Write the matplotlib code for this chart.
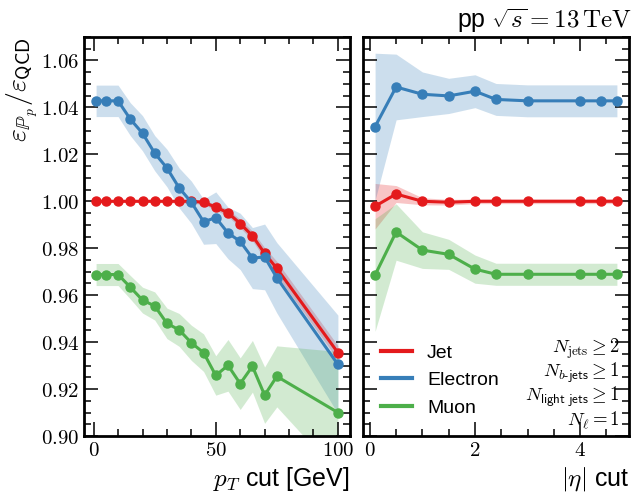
import numpy as np
import matplotlib
matplotlib.use("Agg")
import matplotlib.pyplot as plt
from matplotlib.ticker import MultipleLocator, FuncFormatter

plt.rcParams["font.family"] = ["Liberation Sans", "DejaVu Sans"]
plt.rcParams["mathtext.fontset"] = "cm"

# ---------------- data ----------------
pt_cut = [1, 5, 10, 15, 20, 25, 30, 35, 40, 45, 50, 55, 60, 65, 70, 75, 100]
jet_pt = [1.000, 1.000, 1.000, 1.000, 1.000, 1.000, 1.000, 1.000, 1.000, 0.9996,
          0.9975, 0.9951, 0.9905, 0.9853, 0.9778, 0.9714, 0.9355]
jet_pt_err = [0.0005, 0.0005, 0.0005, 0.0005, 0.0005, 0.0005, 0.0006, 0.0007, 0.0008,
              0.001, 0.0012, 0.0015, 0.0018, 0.002, 0.0025, 0.003, 0.003]
ele_pt = [1.0428, 1.0428, 1.0428, 1.035, 1.029, 1.0205, 1.0142, 1.0057, 0.9996,
          0.9913, 0.993, 0.9865, 0.9829, 0.9758, 0.9763, 0.9674, 0.9305]
ele_pt_err = [0.0067, 0.0067, 0.0067, 0.007, 0.0075, 0.0075, 0.008, 0.0085, 0.009,
              0.0096, 0.011, 0.011, 0.012, 0.013, 0.014, 0.015, 0.021]
muon_pt = [0.9688, 0.9688, 0.9688, 0.9634, 0.9579, 0.9554, 0.948, 0.9452, 0.9397,
           0.9355, 0.9258, 0.9301, 0.9223, 0.9297, 0.9174, 0.9254, 0.910]
muon_pt_err = [0.0047, 0.0047, 0.0047, 0.005, 0.0055, 0.006, 0.0065, 0.007, 0.0075,
               0.008, 0.0084, 0.011, 0.011, 0.011, 0.012, 0.013, 0.026]

eta_cut = [0.1, 0.5, 1.0, 1.5, 2.0, 2.4, 3.0, 4.0, 4.4, 4.7]
jet_eta = [0.9979, 1.0031, 1.000, 0.9996, 1.000, 1.000, 1.000, 1.000, 1.000, 1.000]
jet_eta_err = [0.0097, 0.0036, 0.0015, 0.0012, 0.001, 0.001, 0.001, 0.001, 0.001, 0.001]
ele_eta = [1.0318, 1.0487, 1.0456, 1.0449, 1.0469, 1.0434, 1.0428, 1.0428, 1.0428, 1.0428]
ele_eta_err = [0.0313, 0.014, 0.0095, 0.0075, 0.007, 0.0068, 0.0068, 0.0068, 0.0068, 0.0068]
muon_eta = [0.9686, 0.9869, 0.9792, 0.9774, 0.9711, 0.9689, 0.9689, 0.9689, 0.9689, 0.9689]
muon_eta_err = [0.024, 0.012, 0.0078, 0.0064, 0.006, 0.0047, 0.0047, 0.0047, 0.0047, 0.0047]

labels = ["Jet", "Electron", "Muon"]
colors = ["#e41a1c", "#377eb8", "#4daf4a"]

# ---------------- figure ----------------
fig = plt.figure(figsize=(6.44, 4.99), dpi=100)
W, H = 644.0, 499.0
ax1 = fig.add_axes([84 / W, 63 / H, 266 / W, 399 / H])
ax2 = fig.add_axes([363 / W, 63 / H, 266 / W, 399 / H], sharey=ax1)


def draw(ax, x, series):
    handles = []
    for (y, e), c, lab in zip(series, colors, labels):
        y = np.asarray(y); e = np.asarray(e)
        ax.fill_between(x, y - e, y + e, color=c, alpha=0.25, lw=0)
        ax.plot(x, y, color=c, lw=2.2, marker="o", ms=6.5)
        h, = ax.plot([], [], color=c, lw=3, label=lab)
        handles.append(h)
    return handles


draw(ax1, pt_cut, [(jet_pt, jet_pt_err), (ele_pt, ele_pt_err), (muon_pt, muon_pt_err)])
handles = draw(ax2, eta_cut, [(jet_eta, jet_eta_err), (ele_eta, ele_eta_err), (muon_eta, muon_eta_err)])

ax1.set_ylim(0.90, 1.07)
ax1.set_xlim(-3.95, 104.95)
ax2.set_xlim(-0.13, 4.93)

ax1.xaxis.set_major_locator(MultipleLocator(50))
ax1.xaxis.set_minor_locator(MultipleLocator(10))
ax2.xaxis.set_major_locator(MultipleLocator(2))
ax2.xaxis.set_minor_locator(MultipleLocator(0.5))
ax1.yaxis.set_major_locator(MultipleLocator(0.02))
ax1.yaxis.set_minor_locator(MultipleLocator(0.005))

ax1.xaxis.set_major_formatter(FuncFormatter(lambda v, p: r"$%d$" % round(v)))
ax2.xaxis.set_major_formatter(FuncFormatter(lambda v, p: r"$%d$" % round(v)))
ax1.yaxis.set_major_formatter(FuncFormatter(lambda v, p: r"$%.2f$" % v))

for ax in (ax1, ax2):
    for s in ax.spines.values():
        s.set_linewidth(2)
    ax.tick_params(which="both", direction="in", top=True, right=True, labelsize=15)
    ax.tick_params(which="major", length=10, width=1.1)
    ax.tick_params(which="minor", length=5, width=1.1)
ax2.tick_params(axis="y", which="both", labelleft=False)

ax1.set_xlabel(r"$p_T$ cut [GeV]", fontsize=18, loc="right")
ax2.set_xlabel(r"$|\eta|$ cut", fontsize=18, loc="right")
ax1.set_ylabel(r"$\varepsilon_{\mathbb{P}_p}/\varepsilon_{\mathsf{QCD}}$", fontsize=20, loc="top")
ax1.yaxis.set_label_coords(-0.165, 1.0)

ax2.legend(handles=handles, loc="lower left", fontsize=14, frameon=False,
           handlelength=1.6, bbox_to_anchor=(0.0, 0.005), labelspacing=0.5)

ax2.text(0.965, 0.25,
         r"$N_{\mathrm{jets}} \geq 2$" "\n" r"$N_{b\mathsf{\text{-}jets}} \geq 1$" "\n"
         r"$N_{\mathsf{light\ jets}} \geq 1$" "\n" r"$N_{\ell} = 1$",
         transform=ax2.transAxes, ha="right", va="top", fontsize=13.5, linespacing=1.0,
         multialignment="right")

fig.text(632 / W, 1 - 28 / H, r"pp $\sqrt{s} = 13\,\mathrm{TeV}$", ha="right",
         va="baseline", fontsize=18)

fig.savefig("out.png", dpi=100)
